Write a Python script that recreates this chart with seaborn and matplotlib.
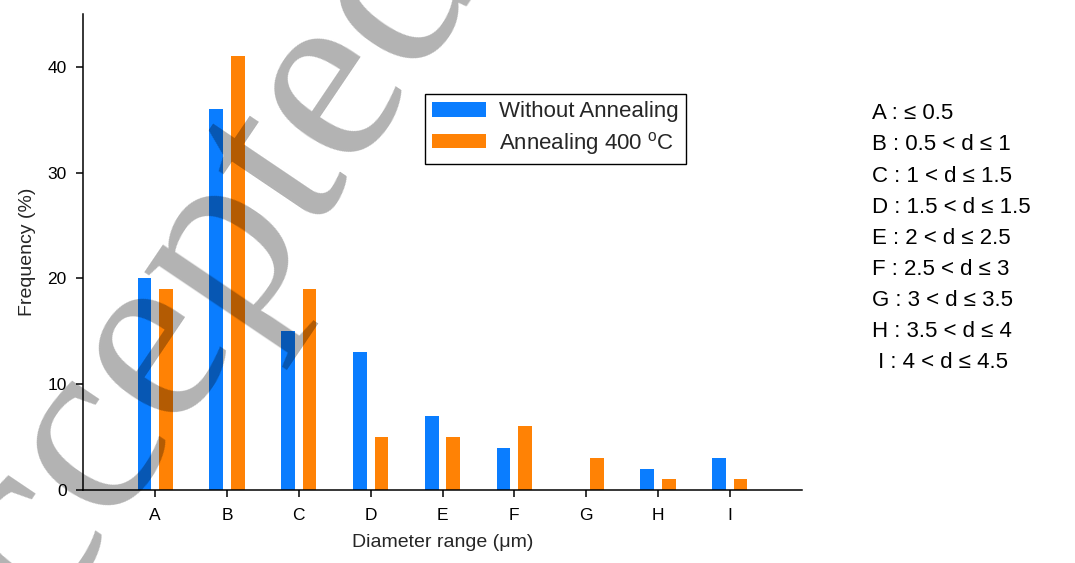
import matplotlib
matplotlib.use("Agg")
import matplotlib.pyplot as plt
import seaborn as sns
import pandas as pd

# ---- data ----
categories = ["A", "B", "C", "D", "E", "F", "G", "H", "I"]
without_annealing = [20, 36, 15, 13, 7, 4, 0, 2, 3]
annealing_400 = [19, 41, 19, 5, 5, 6, 3, 1, 1]
series_names = ["Without Annealing", r"Annealing 400 $^{\mathregular{o}}$C"]
y_ticks = [0, 10, 20, 30, 40]
range_labels = [
    "A : ≤ 0.5",
    "B : 0.5 < d ≤ 1",
    "C : 1 < d ≤ 1.5",
    "D : 1.5 < d ≤ 1.5",
    "E : 2 < d ≤ 2.5",
    "F : 2.5 < d ≤ 3",
    "G : 3 < d ≤ 3.5",
    "H : 3.5 < d ≤ 4",
    " I : 4 < d ≤ 4.5",
]
x_label = "Diameter range (μm)"
y_label = "Frequency (%)"
watermark = "Accepted"

colors = ["#0A7DFF", "#FF8205"]

sns.set_style("ticks")
plt.rcParams["font.family"] = ["Liberation Sans", "DejaVu Sans"]
plt.rcParams["mathtext.fontset"] = "custom"
plt.rcParams["mathtext.rm"] = "Liberation Sans"

df = pd.DataFrame({
    "range": categories * 2,
    "freq": without_annealing + annealing_400,
    "series": [series_names[0]] * len(categories) + [series_names[1]] * len(categories),
})

fig = plt.figure(figsize=(10.75, 5.63), dpi=100)
ax = fig.add_axes([0.0775, 0.1298, 0.6683, 0.8453])

sns.barplot(data=df, x="range", y="freq", hue="series", order=categories,
            hue_order=series_names, palette=colors, width=0.6, gap=0.367,
            saturation=1, linewidth=0, ax=ax)

ax.set_xlim(-1, 9)
ax.set_ylim(0, 45)
ax.set_yticks(y_ticks)
for s in ["top", "right"]:
    ax.spines[s].set_visible(False)
for s in ["left", "bottom"]:
    ax.spines[s].set_linewidth(1.1)
    ax.spines[s].set_color("black")
ax.tick_params(axis="both", direction="out", length=5, width=1.1, color="black",
               labelsize=12.5, labelcolor="black")
ax.tick_params(axis="x", pad=8)
ax.tick_params(axis="y", pad=7)
ax.set_xlabel(x_label, fontsize=14, labelpad=8)
ax.set_ylabel(y_label, fontsize=14, labelpad=8)

handles, labels = ax.get_legend_handles_labels()
leg = ax.legend(handles, labels, loc="upper left", bbox_to_anchor=(0.476, 0.832),
                borderaxespad=0, fontsize=16, frameon=True, fancybox=False,
                framealpha=1, edgecolor="black", handlelength=2.42,
                handleheight=0.63, handletextpad=0.59, borderpad=0.32,
                labelspacing=0.34)
leg.get_frame().set_linewidth(1.0)

# range definitions on the right
for i, txt in enumerate(range_labels):
    fig.text(872 / 1075, 1 - (119.3 + 31.1 * i) / 563, txt, fontsize=16,
             ha="left", va="baseline", color="black")

# watermark
fig.text(0.2, 0.334, watermark, fontsize=185, family="Liberation Serif",
         rotation=56, rotation_mode="anchor",
         ha="center", va="baseline", color="black", alpha=0.3, zorder=10)

fig.savefig("out.png", dpi=100)
